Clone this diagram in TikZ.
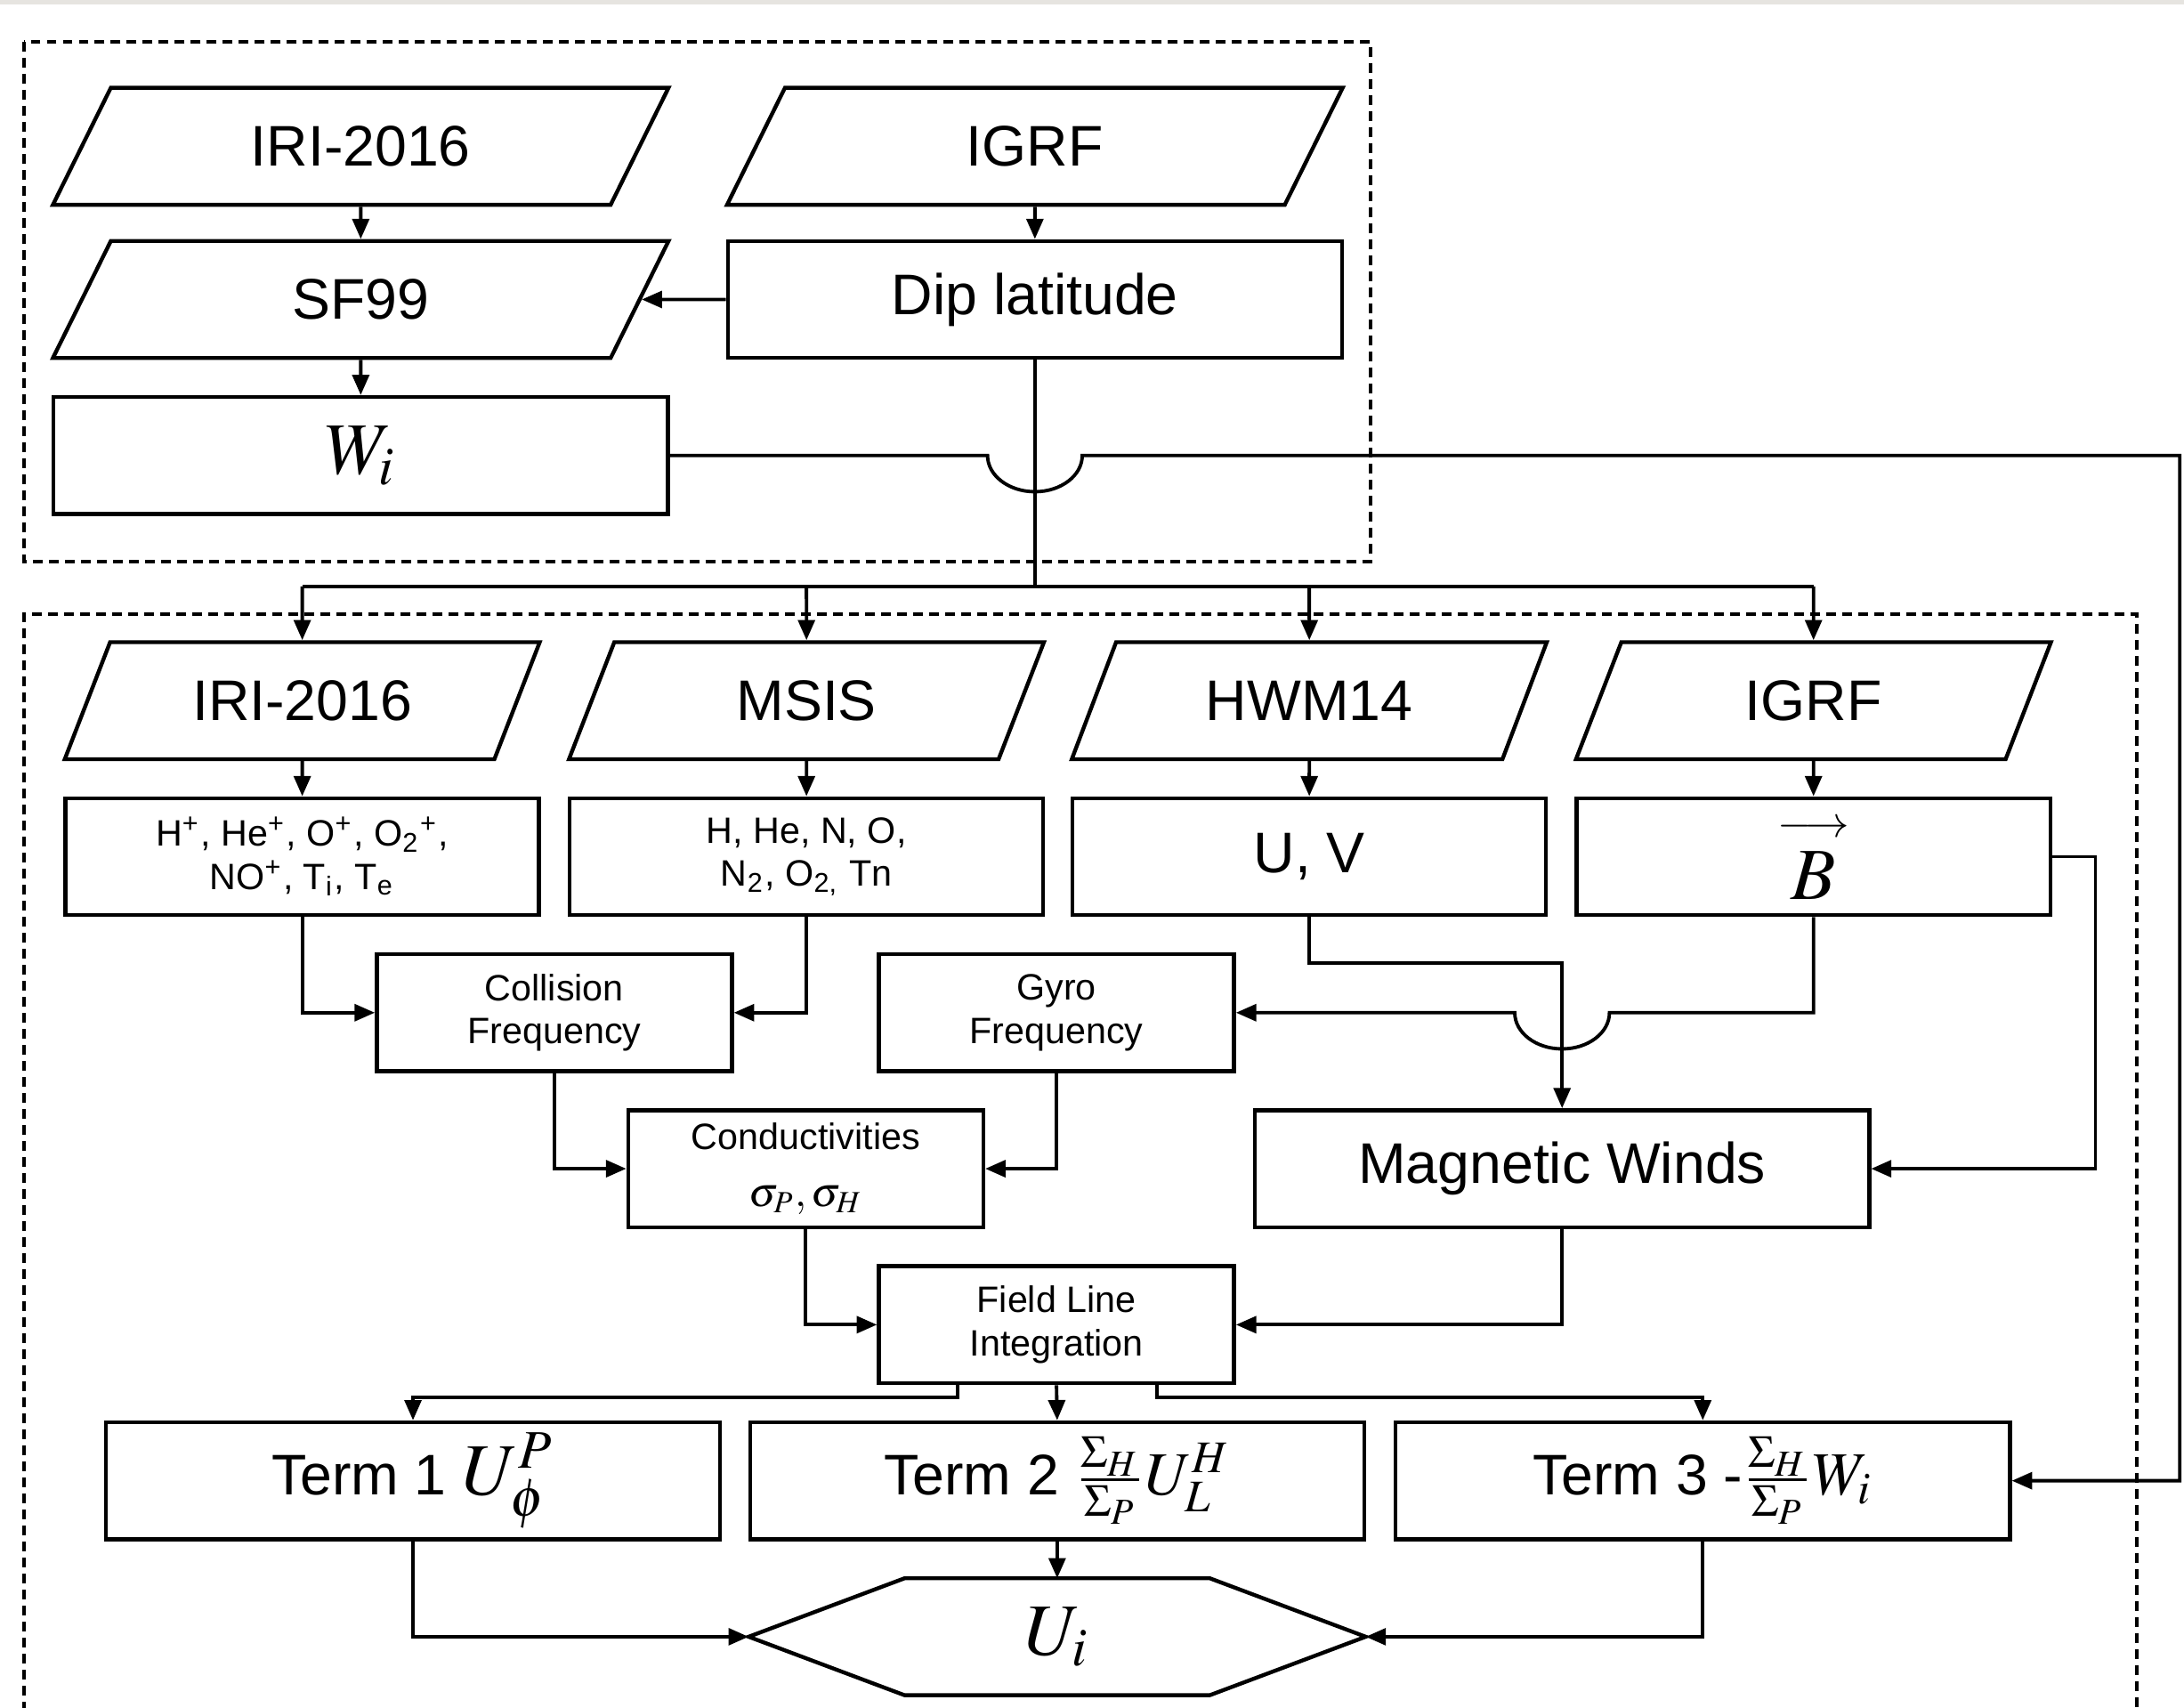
\documentclass[tikz,border=0pt]{standalone}
\usepackage{mathptmx}
\usepackage[no-math]{fontspec}
\setmainfont{Liberation Sans}
\usepackage{amsmath}
\usetikzlibrary{arrows.meta, shapes.geometric}
\definecolor{barcolour}{RGB}{230,228,224}
\newcommand{\labsize}{\fontsize{11.7}{14}\selectfont}
\newcommand{\notesize}{\fontsize{7.5}{8.8}\selectfont}
\newcommand{\mathsize}{\fontsize{15}{18}\selectfont}
\newcommand{\fracsize}{\fontsize{12.5}{14}\selectfont}
\newcommand{\jumpx}{3.4mm}
\newcommand{\jumpy}{2.6mm}
\tikzset{
  proc/.style     = {draw, line width=0.8pt, minimum height=8.4mm, inner sep=1pt, align=center},
  wide/.style     = {proc, minimum width=44.1mm, font=\labsize},
  mid/.style      = {proc, minimum width=34mm, font=\labsize},
  narrow/.style   = {proc, minimum width=25.5mm, font=\notesize},
  % model inputs are drawn as parallelograms
  datain/.style   = {trapezium, draw, line width=0.8pt, trapezium stretches body,
                     minimum height=8.4mm, inner sep=1pt, font=\labsize},
  datatop/.style  = {datain, trapezium left angle=41, trapezium right angle=139, minimum width=44.2mm},
  datalow/.style  = {datain, trapezium left angle=48, trapezium right angle=132, minimum width=34.1mm},
  conn/.style     = {line width=0.7pt, -{Triangle[length=1.45mm, width=1.2mm]}},
  wire/.style     = {line width=0.7pt},
  zone/.style     = {line width=0.75pt, dash pattern=on 0.7mm off 0.45mm},
}

\begin{document}
\begin{tikzpicture}[x=0.1mm, y=-0.1mm]
\useasboundingbox (0,0) rectangle (1568,1226);
\fill[barcolour] (0,0) rectangle (1568,3.5);
\draw[zone] (17,30) rectangle (984,403);
\draw[zone] (17,1240) -- (17,441) -- (1534,441) -- (1534,1240);

% upper group
\node[datatop] (iri1)  at (259,105) {IRI-2016};
\node[datatop] (igrf1) at (743,105) {IGRF};
\node[datatop] (sf)    at (259,215) {SF99};
\node[wide]    (dip)   at (743,215) {Dip latitude};
\node[wide, font=\mathsize] (wi) at (259,327) {$W_i$};

% lower group
\node[datalow] (iri2)  at (217,503)  {IRI-2016};
\node[datalow] (msis)  at (579,503)  {MSIS};
\node[datalow] (hwm)   at (940,503)  {HWM14};
\node[datalow] (igrf2) at (1302,503) {IGRF};
\node[mid, font=\notesize] (ions) at (217,615)
  {H\textsuperscript{+}, He\textsuperscript{+}, O\textsuperscript{+}, O\textsubscript{2}\textsuperscript{+},\\
   NO\textsuperscript{+}, T\textsubscript{i}, T\textsubscript{e}};
\node[mid, font=\notesize] (neut) at (579,615)
  {H, He, N, O,\\ N\textsubscript{2}, O\textsubscript{2,} Tn};
\node[mid] (uv)   at (940,615)  {U, V};
\node[mid, font=\mathsize] (bvec) at (1302,615) {$\overset{\scriptscriptstyle\longrightarrow}{B}$};
\node[narrow] (coll) at (398,727) {Collision\\Frequency};
\node[narrow] (gyro) at (758.5,727) {Gyro\\Frequency};
\node[narrow] (cond) at (578.5,839) {Conductivities\\[3pt]{\fontsize{8.5}{10}\selectfont$\sigma_P, \sigma_H$}};
\node[wide]   (mw)   at (1121.5,839) {Magnetic Winds};
\node[narrow] (fli)  at (758.5,951) {Field Line\\Integration};
\node[wide] (t1) at (296.5,1063) {Term 1 {\mathsize$U_\phi^P$}};
\node[wide] (t2) at (759,1063)   {Term 2 {\fracsize$\frac{\Sigma_H}{\Sigma_P}U_L^H$}};
\node[wide] (t3) at (1222.5,1063) {Term 3 -{\fracsize$\frac{\Sigma_H}{\Sigma_P}W_i$}};
\node[minimum width=44.3mm, minimum height=8.4mm, outer sep=0pt, font=\mathsize] (ui) at (759,1175) {$U_i$};
\draw[line width=0.8pt] (ui.west) -- ([xshift=11.2mm]ui.north west) -- ([xshift=-11.2mm]ui.north east)
  -- (ui.east) -- ([xshift=-11.2mm]ui.south east) -- ([xshift=11.2mm]ui.south west) -- cycle;

% connectors, upper group
\draw[conn] (iri1) -- (sf);
\draw[conn] (igrf1) -- (dip);
\draw[conn] (sf) -- (wi);
\draw[conn] (dip) -- (sf);
\coordinate (bus) at (743,421);
\coordinate (jw) at (dip.south |- wi.east);
\coordinate (rt) at (1565,327);
\draw[wire] (dip.south) -- (bus);
\draw[conn] (wi.east) -- ([xshift=-\jumpx]jw)
  arc[start angle=180, end angle=360, x radius=\jumpx, y radius=\jumpy] -- (rt) |- (t3.east);

% connectors, lower group
\draw[wire] (iri2 |- bus) -- (igrf2 |- bus);
\foreach \n in {iri2, msis, hwm, igrf2}
  \draw[conn] (\n |- bus) -- (\n);
\foreach \a/\b in {iri2/ions, msis/neut, hwm/uv, igrf2/bvec}
  \draw[conn] (\a) -- (\b);
\draw[conn] (ions.south) |- (coll.west);
\draw[conn] (neut.south) |- (coll.east);
\draw[conn] (coll.south) |- (cond.west);
\draw[conn] (gyro.south) |- (cond.east);
\draw[conn] (uv.south) -- ++(0,33) -| (mw.north);
\coordinate (jb) at (mw.north |- gyro.east);
\draw[conn] (bvec.south) |- ([xshift=\jumpx]jb)
  arc[start angle=0, end angle=-180, x radius=\jumpx, y radius=\jumpy] -- (gyro.east);
\draw[conn] (bvec.east) -- ++(31,0) |- (mw.east);
\draw[conn] (cond.south) |- (fli.west);
\draw[conn] (mw.south) |- (fli.east);
\draw[conn] ([xshift=-7.1mm]fli.south) -- ++(0,9) -| (t1.north);
\draw[conn] (fli.south) -- (t2.north);
\draw[conn] ([xshift=7.2mm]fli.south) -- ++(0,9) -| (t3.north);
\draw[conn] (t1.south) |- (ui.west);
\draw[conn] (t2.south) -- (ui.north);
\draw[conn] (t3.south) |- (ui.east);
\end{tikzpicture}
\end{document}
